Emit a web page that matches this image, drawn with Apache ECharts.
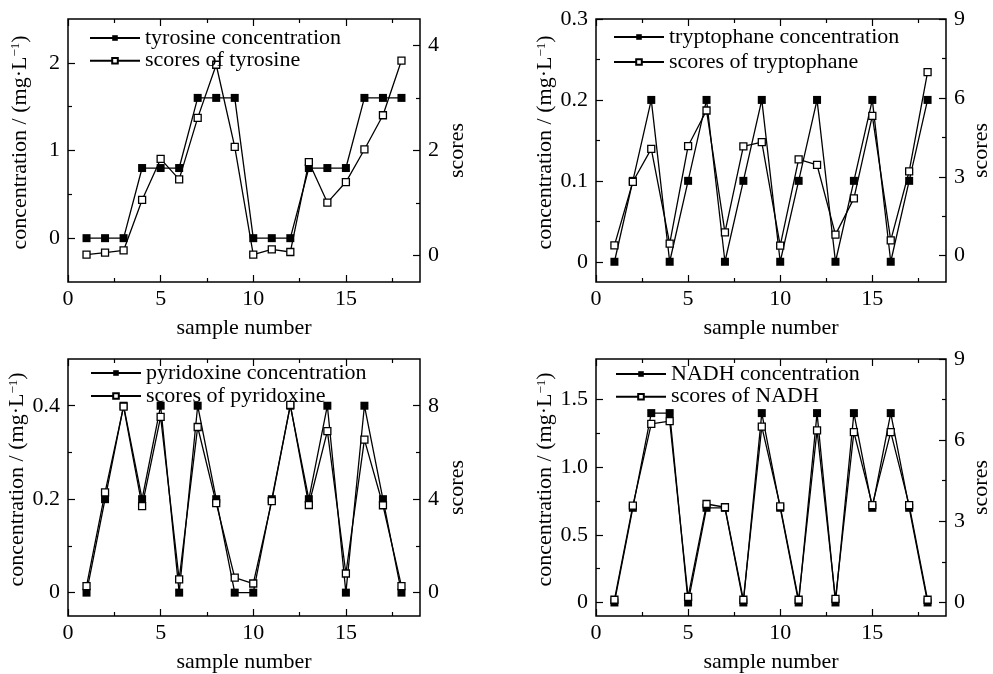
<!DOCTYPE html>
<html>
<head>
<meta charset="utf-8">
<script src="https://cdn.jsdelivr.net/npm/echarts@6/dist/echarts.min.js"></script>
<style>
html,body{margin:0;padding:0;background:#fff}
#chart{width:993px;height:674px}
</style>
</head>
<body>
<div id="chart"></div>
<script>
// sample numbers
var samples = [1,2,3,4,5,6,7,8,9,10,11,12,13,14,15,16,17,18];

// concentrations (mg/L) and scores
var tyrosineConc   = [0,0,0,0.8,0.8,0.8,1.6,1.6,1.6,0,0,0,0.8,0.8,0.8,1.6,1.6,1.6];
var tyrosineScores = [0.02,0.06,0.1,1.06,1.84,1.45,2.62,3.63,2.07,0.02,0.12,0.07,1.78,1.01,1.4,2.02,2.67,3.71];

var tryptoConc   = [0,0.1,0.2,0,0.1,0.2,0,0.1,0.2,0,0.1,0.2,0,0.1,0.2,0,0.1,0.2];
var tryptoScores = [0.39,2.81,4.06,0.46,4.17,5.52,0.89,4.16,4.32,0.38,3.66,3.45,0.8,2.18,5.32,0.58,3.21,6.98];

var pyridoxConc   = [0,0.2,0.4,0.2,0.4,0,0.4,0.2,0,0,0.2,0.4,0.2,0.4,0,0.4,0.2,0];
var pyridoxScores = [0.28,4.29,7.96,3.7,7.52,0.57,7.09,3.83,0.64,0.39,3.92,8.04,3.75,6.91,0.82,6.55,3.74,0.28];

var nadhConc   = [0,0.7,1.4,1.4,0,0.7,0.7,0,1.4,0.7,0,1.4,0,1.4,0.7,1.4,0.7,0];
var nadhScores = [0.1,3.58,6.6,6.7,0.21,3.64,3.52,0.1,6.5,3.55,0.1,6.36,0.13,6.3,3.6,6.3,3.6,0.1];

// tick labels
var xTicks = [0,5,10,15];
var xMinor = [2.5,7.5,12.5,17.5];

var tyrosineLeftTicks = [0,1,2],        tyrosineLeftMinor = [0.5,1.5];
var tyrosineRightTicks = [0,2,4],       tyrosineRightMinor = [1,3];
var tryptoLeftTicks = [0,0.1,0.2,0.3],  tryptoLeftMinor = [0.05,0.15,0.25];
var tryptoRightTicks = [0,3,6,9],       tryptoRightMinor = [1.5,4.5,7.5];
var pyridoxLeftTicks = [0,0.2,0.4],     pyridoxLeftMinor = [0.1,0.3];
var pyridoxRightTicks = [0,4,8],        pyridoxRightMinor = [2,6];
var nadhLeftTicks = [0,0.5,1.0,1.5],    nadhLeftMinor = [0.25,0.75,1.25];
var nadhRightTicks = [0,3,6,9],         nadhRightMinor = [1.5,4.5,7.5];

var FONT = 'Liberation Serif';
var tickLine = {color:'#000', width:1.2};

var panels = [
  {grid:{left:68, top:19, width:352, height:263},
   conc:tyrosineConc, scores:tyrosineScores,
   concName:'tyrosine concentration', scoreName:'scores of tyrosine',
   left:[-0.5,2.5], right:[-0.5,4.5], dec:0,
   lt:tyrosineLeftTicks, lm:tyrosineLeftMinor, rt:tyrosineRightTicks, rm:tyrosineRightMinor,
   legend:{left:89, top:27, lh:20, gap:0.7}, rGap:26},
  {grid:{left:596, top:19, width:355, height:263},
   conc:tryptoConc, scores:tryptoScores,
   concName:'tryptophane concentration', scoreName:'scores of tryptophane',
   left:[-0.025,0.3], right:[-1,9], dec:1,
   lt:tryptoLeftTicks, lm:tryptoLeftMinor, rt:tryptoRightTicks, rm:tryptoRightMinor,
   legend:{left:613, top:26, lh:22, gap:3}, rGap:24},
  {grid:{left:68, top:359, width:352, height:264},
   conc:pyridoxConc, scores:pyridoxScores,
   concName:'pyridoxine concentration', scoreName:'scores of pyridoxine',
   left:[-0.05,0.5], right:[-1,10], dec:1,
   lt:pyridoxLeftTicks, lm:pyridoxLeftMinor, rt:pyridoxRightTicks, rm:pyridoxRightMinor,
   legend:{left:90, top:362, lh:22, gap:1}, rGap:26},
  {grid:{left:596, top:359, width:355, height:259},
   conc:nadhConc, scores:nadhScores,
   concName:'NADH concentration', scoreName:'scores of NADH',
   left:[-0.1,1.8], right:[-0.5,9], dec:1,
   lt:nadhLeftTicks, lm:nadhLeftMinor, rt:nadhRightTicks, rm:nadhRightMinor,
   legend:{left:615, top:363, lh:21, gap:0.7}, rGap:24}
];

function txt(size) {
  return {fontFamily:FONT, fontSize:size, color:'#000'};
}

function axisPair(kind, g, pos, range, major, minor, opts) {
  var base = {
    gridIndex:g, type:'value', min:range[0], max:range[1], position:pos,
    axisLine:{show:false, onZero:false}, splitLine:{show:false}
  };
  var a = Object.assign({}, base, {
    axisTick:{inside:true, length:7, customValues:major, lineStyle:tickLine},
    axisLabel:opts.label ? Object.assign({customValues:major, margin:opts.margin, formatter:opts.fmt}, txt(22)) : {show:false}
  });
  if (opts.name) {
    a.name = opts.name;
    a.nameLocation = 'middle';
    a.nameGap = opts.nameGap;
    if (kind === 'y') a.nameRotate = 90;
    a.nameTextStyle = Object.assign(txt(22), opts.nameStyle || {});
  }
  var b = Object.assign({}, base, {
    axisTick:{inside:true, length:4, customValues:minor, lineStyle:tickLine},
    axisLabel:{show:false}
  });
  return [a, b];
}

var grids = [], xAxes = [], yAxes = [], series = [], legends = [];

panels.forEach(function (p, g) {
  grids.push(Object.assign({show:true, borderColor:'#000', borderWidth:1.5, backgroundColor:'transparent'}, p.grid));

  var fmt = function (v) { return v === 0 ? '0' : v.toFixed(p.dec); };
  var intFmt = function (v) { return String(v); };

  // x: bottom (labels) + top (mirror ticks)
  xAxes = xAxes.concat(axisPair('x', g, 'bottom', [0,19], xTicks, xMinor,
    {label:true, margin:6, fmt:intFmt, name:'sample number', nameGap:35}));
  xAxes = xAxes.concat(axisPair('x', g, 'top', [0,19], xTicks, xMinor, {label:false}));

  // y: left concentration, right scores
  yAxes = yAxes.concat(axisPair('y', g, 'left', p.left, p.lt, p.lm,
    {label:true, margin:8, fmt:fmt, name:'concentration / (mg·L{sup|−1})', nameGap:37,
     nameStyle:{padding:[0,0,0,16], rich:{sup:{fontFamily:FONT, fontSize:13, color:'#000', verticalAlign:'top', padding:[0,0,6,0]}}}}));
  yAxes = yAxes.concat(axisPair('y', g, 'right', p.right, p.rt, p.rm,
    {label:true, margin:8, fmt:intFmt, name:'scores', nameGap:p.rGap}));

  series.push({
    type:'line', name:p.concName, xAxisIndex:4*g, yAxisIndex:4*g,
    data:samples.map(function (s, i) { return [s, p.conc[i]]; }),
    symbol:'rect', symbolSize:8,
    itemStyle:{color:'#000'}, lineStyle:{color:'#000', width:1.3}, z:2
  });
  series.push({
    type:'line', name:p.scoreName, xAxisIndex:4*g, yAxisIndex:4*g+2,
    data:samples.map(function (s, i) { return [s, p.scores[i]]; }),
    symbol:'rect', symbolSize:7,
    itemStyle:{color:'#fff', borderColor:'#000', borderWidth:1.3},
    lineStyle:{color:'#000', width:1.3}, z:3
  });

  legends.push({
    data:[p.concName, p.scoreName], orient:'vertical',
    left:p.legend.left, top:p.legend.top, padding:0,
    itemWidth:50, itemHeight:7, itemGap:p.legend.gap,
    textStyle:Object.assign(txt(22), {lineHeight:p.legend.lh})
  });
});

var myChart = echarts.init(document.getElementById('chart'));
myChart.setOption({
  animation:false,
  backgroundColor:'#fff',
  grid:grids,
  xAxis:xAxes,
  yAxis:yAxes,
  legend:legends,
  series:series
});
</script>
</body>
</html>
